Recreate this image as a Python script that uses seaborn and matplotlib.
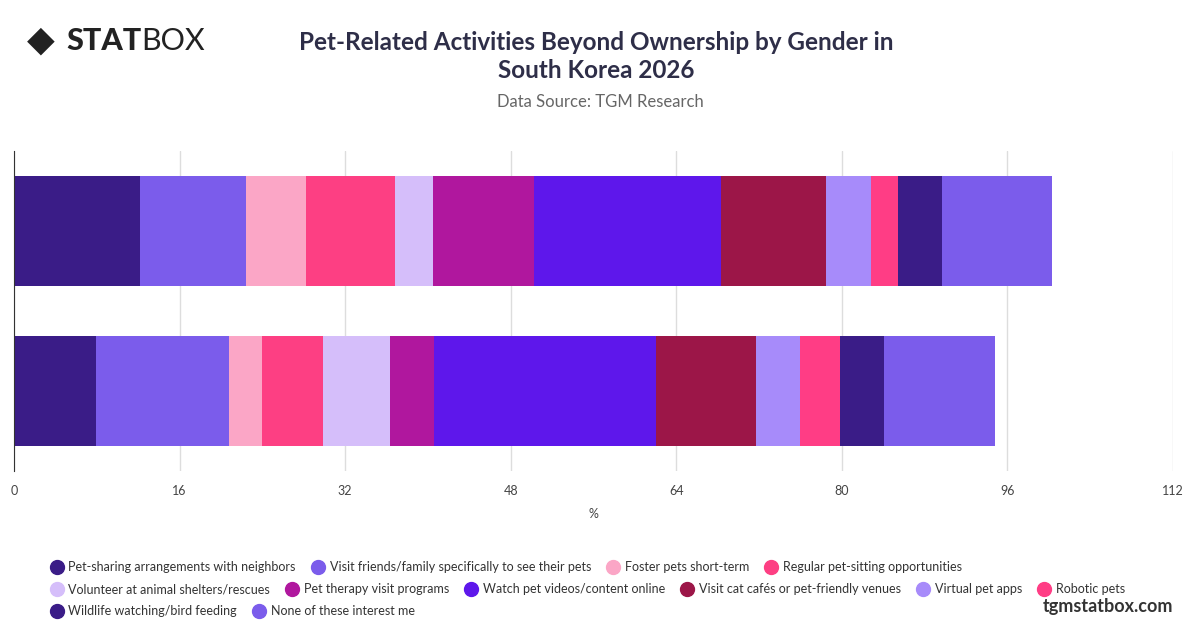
import matplotlib
matplotlib.use("Agg")
import matplotlib.pyplot as plt
import seaborn as sns
import numpy as np
import pandas as pd
from matplotlib.lines import Line2D

groups = ["Male", "Female"]
activities = ["Pet-sharing arrangements with neighbors", "Visit friends/family specifically to see their pets",
              "Foster pets short-term", "Regular pet-sitting opportunities",
              "Volunteer at animal shelters/rescues", "Pet therapy visit programs",
              "Watch pet videos/content online", "Visit cat cafés or pet-friendly venues",
              "Virtual pet apps", "Robotic pets", "Wildlife watching/bird feeding", "None of these interest me"]
male = [12.2, 10.2, 5.8, 8.6, 3.7, 9.7, 18.1, 10.2, 4.3, 2.6, 4.3, 10.6]
female = [7.9, 12.9, 3.2, 5.9, 6.4, 4.3, 21.4, 9.7, 4.3, 3.8, 4.3, 10.7]
colors = ["#3A1C87", "#7B5CEB", "#FBA6C6", "#FD3F83", "#D5BEFA", "#B0179E",
          "#5E17EB", "#9C1648", "#A78BFA", "#FF3D85", "#3A1C87", "#7B5CEB"]

sns.set_style("white")
plt.rcParams['font.family'] = ['Lato', 'DejaVu Sans']
fig = plt.figure(figsize=(12, 6.28), dpi=100)
ax = fig.add_axes([0.0117, 0.25, 0.9658, 0.51])

cum = np.cumsum(np.array([male, female]), axis=1)
for i in range(len(activities) - 1, -1, -1):
    df = pd.DataFrame({"g": groups, "v": cum[:, i]})
    sns.barplot(data=df, x="v", y="g", color=colors[i], orient="h", width=0.69,
                saturation=1, ax=ax, zorder=2, linewidth=0)

ax.set_xlim(0, 112)
ax.set_xticks(range(0, 113, 16))
ax.grid(axis="x", color="#DDDDDD", lw=1, zorder=0)
ax.set_axisbelow(True)
for s in ["top", "right", "bottom"]:
    ax.spines[s].set_visible(False)
ax.spines["left"].set_color("#333333")
ax.set_yticklabels([])
ax.set_ylabel("")
ax.tick_params(axis="y", length=0)
ax.tick_params(axis="x", length=0, labelsize=9, colors="#444444", pad=10)
ax.set_xlabel("%", fontsize=9, color="#444444", labelpad=8)

fig.text(0.497, 0.91, "Pet-Related Activities Beyond Ownership by Gender in\nSouth Korea 2026",
         ha="center", va="center", fontsize=17.5, fontweight="bold", color="#2E2E48", linespacing=1.3)
fig.text(0.5, 0.838, "Data Source: TGM Research", ha="center", va="center", fontsize=12, color="#666666")
fig.text(0.022, 0.935, "◆", fontsize=26, color="#222222", va="center", family="DejaVu Sans")
fig.text(0.055, 0.935, "STAT", fontsize=22, fontweight="black", color="#222222", va="center")
fig.text(0.118, 0.935, "BOX", fontsize=22, color="#222222", va="center")
fig.text(0.978, 0.035, "tgmstatbox.com", ha="right", va="center", fontsize=13, fontweight="bold", color="#333333")

rows = [[0, 1, 2, 3], [4, 5, 6, 7, 8, 9], [10, 11]]
ys = [0.097, 0.062, 0.027]
for r, y in zip(rows, ys):
    hs = [Line2D([], [], marker="o", ls="", color=colors[i], markersize=10) for i in r]
    fig.legend(hs, [activities[i] for i in r], loc="center left", bbox_to_anchor=(0.03, y),
               ncol=len(r), frameon=False, fontsize=9, handletextpad=0.2, columnspacing=1.0,
               handlelength=1.5, labelcolor="#333333")

fig.savefig("out.png", dpi=100)
